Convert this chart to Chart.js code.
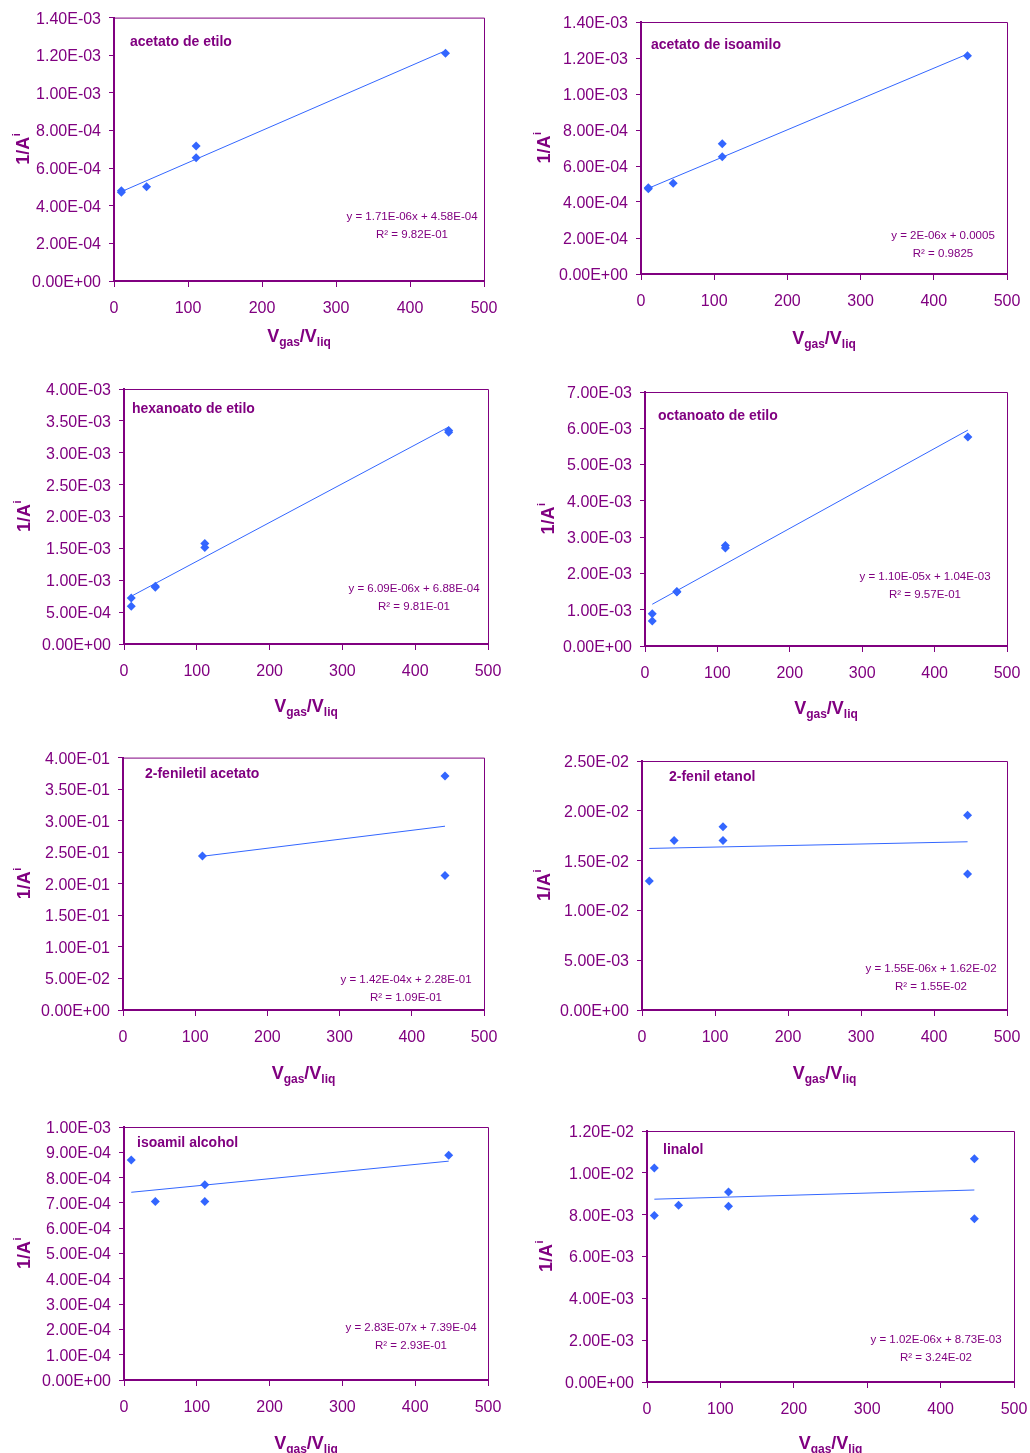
<!DOCTYPE html>
<html><head><meta charset="utf-8">
<script src="https://cdn.jsdelivr.net/npm/chart.js@4.4.1/dist/chart.umd.min.js"></script>
<style>
html,body{margin:0;padding:0;background:#fff;}
#wrap{position:relative;width:1030px;height:1453px;overflow:hidden;background:#fff;}
canvas{position:absolute;}
</style></head><body><div id="wrap"></div>
<script>
// ---------------- DATA ----------------
const panelNames = ['acetato de etilo','acetato de isoamilo','hexanoato de etilo','octanoato de etilo',
  '2-feniletil acetato','2-fenil etanol','isoamil alcohol','linalol'];

const xAcetatoEtilo = [10, 10, 44, 111, 111, 448];
const yAcetatoEtilo = [4.72e-4, 4.80e-4, 5.01e-4, 7.17e-4, 6.55e-4, 1.21e-3];

const xAcetatoIsoamilo = [10, 10, 44, 111, 111, 446];
const yAcetatoIsoamilo = [4.73e-4, 4.79e-4, 5.04e-4, 7.24e-4, 6.52e-4, 1.213e-3];

const xHexanoato = [10, 10, 43, 43, 111, 111, 446, 446];
const yHexanoato = [7.22e-4, 5.92e-4, 9.05e-4, 8.92e-4, 1.576e-3, 1.513e-3, 3.35e-3, 3.32e-3];

const xOctanoato = [10, 10, 44, 44, 111, 111, 446];
const yOctanoato = [8.9e-4, 6.9e-4, 1.49e-3, 1.50e-3, 2.77e-3, 2.70e-3, 5.76e-3];

const xFeniletilAcetato = [110, 446, 446];
const yFeniletilAcetato = [0.2439, 0.3708, 0.2131];

const xFenilEtanol = [10, 44, 111, 111, 446, 446];
const yFenilEtanol = [0.01295, 0.01702, 0.01839, 0.01702, 0.01956, 0.01365];

const xIsoamilAlcohol = [10, 43, 111, 111, 446];
const yIsoamilAlcohol = [8.70e-4, 7.06e-4, 7.72e-4, 7.06e-4, 8.88e-4];

const xLinalol = [10, 10, 43, 111, 111, 446, 446];
const yLinalol = [0.01023, 0.00796, 0.00845, 0.00908, 0.00840, 0.01067, 0.00780];

// trendline end points
const trendX = [[10,448],[10,446],[10,446],[10,446],[110,446],[10,446],[10,446],[10,446]];
const trendY = [[4.75e-4,1.224e-3],[4.76e-4,1.222e-3],[7.49e-4,3.404e-3],[1.15e-3,5.95e-3],
                [0.2436,0.2913],[0.01622,0.01689],[7.42e-4,8.65e-4],[8.74e-3,9.18e-3]];

const eqText = ['y = 1.71E-06x + 4.58E-04','y = 2E-06x + 0.0005','y = 6.09E-06x + 6.88E-04',
  'y = 1.10E-05x + 1.04E-03','y = 1.42E-04x + 2.28E-01','y = 1.55E-06x + 1.62E-02',
  'y = 2.83E-07x + 7.39E-04','y = 1.02E-06x + 8.73E-03'];
const r2Text = ['R² = 9.82E-01','R² = 0.9825','R² = 9.81E-01','R² = 9.57E-01',
  'R² = 1.09E-01','R² = 1.55E-02','R² = 2.93E-01','R² = 3.24E-02'];

const yMax  = [1.4e-3, 1.4e-3, 4.0e-3, 7.0e-3, 0.4, 0.025, 1.0e-3, 0.012];
const yStep = [2e-4, 2e-4, 5e-4, 1e-3, 0.05, 0.005, 1e-4, 0.002];
const xMax = 500, xStep = 100;

const xTitleMain = ['V','/V'], xTitleSub = ['gas','liq'];
const yTitleMain = '1/A', yTitleSup = 'i';

const xs = [xAcetatoEtilo,xAcetatoIsoamilo,xHexanoato,xOctanoato,xFeniletilAcetato,xFenilEtanol,xIsoamilAlcohol,xLinalol];
const ys = [yAcetatoEtilo,yAcetatoIsoamilo,yHexanoato,yOctanoato,yFeniletilAcetato,yFenilEtanol,yIsoamilAlcohol,yLinalol];

// ---------------- LAYOUT ----------------
const boxes = [
 {cx:0,  cy:0,   w:545,h:370, L:114,T:17,  R:484, B:281,  tX:130,tY:41,  eX:412,eY:216,  yT:22,  xD:54},
 {cx:515,cy:0,   w:545,h:370, L:641,T:22,  R:1007,B:274,  tX:651,tY:44,  eX:943,eY:235,  yT:543, xD:63},
 {cx:0,  cy:370, w:545,h:370, L:124,T:389, R:488, B:644,  tX:132,tY:408, eX:414,eY:588,  yT:23,  xD:61},
 {cx:515,cy:370, w:545,h:370, L:645,T:392, R:1007,B:646,  tX:658,tY:415, eX:925,eY:576,  yT:547, xD:61},
 {cx:0,  cy:740, w:545,h:365, L:123,T:755, R:484, B:1010, tX:145,tY:773, eX:406,eY:979,  yT:23,  xD:62},
 {cx:515,cy:740, w:545,h:365, L:642,T:761, R:1007,B:1010, tX:669,tY:776, eX:931,eY:968,  yT:543, xD:62},
 {cx:0,  cy:1105,w:545,h:348, L:124,T:1127,R:488, B:1380, tX:137,tY:1142,eX:411,eY:1327, yT:23,  xD:62},
 {cx:515,cy:1105,w:545,h:348, L:647,T:1131,R:1014,B:1382, tX:663,tY:1149,eX:936,eY:1339, yT:545, xD:60}
];

const PURPLE = '#800080', BLUE = '#3366FF';
const FONT = "'Liberation Sans', Arial, Helvetica, sans-serif";
Chart.defaults.font.family = FONT;

function sci(v){
  if (Math.abs(v) < 1e-12) return '0.00E+00';
  const s = v.toExponential(2).split('e');
  const e = parseInt(s[1], 10);
  return s[0] + 'E' + (e < 0 ? '-' : '+') + String(Math.abs(e)).padStart(2,'0');
}

const textPlugin = {
  id: 'panelText',
  beforeDatasetsDraw(chart){
    const ctx = chart.ctx, ca = chart.chartArea;
    ctx.save();
    ctx.strokeStyle = PURPLE; ctx.lineWidth = 1;
    ctx.beginPath();
    ctx.moveTo(ca.left, ca.top + 0.5); ctx.lineTo(ca.right + 0.5, ca.top + 0.5);
    ctx.lineTo(ca.right + 0.5, ca.bottom);
    ctx.stroke();
    ctx.restore();
  },
  afterDraw(chart, args, opts){
    const ctx = chart.ctx, b = opts.box, i = opts.idx, ca = chart.chartArea;
    ctx.save();
    ctx.fillStyle = PURPLE;
    // panel name
    ctx.font = 'bold 14px ' + FONT;
    ctx.textAlign = 'left'; ctx.textBaseline = 'middle';
    ctx.fillText(panelNames[i], b.tX - b.cx, b.tY - b.cy + 1);
    // equation
    ctx.font = '11.5px ' + FONT;
    ctx.textAlign = 'center';
    ctx.fillText(eqText[i], b.eX - b.cx, b.eY - b.cy + 1);
    ctx.fillText(r2Text[i], b.eX - b.cx, b.eY - b.cy + 18.5);
    // y title
    ctx.save();
    ctx.translate(b.yT - b.cx, (ca.top + ca.bottom) / 2);
    ctx.rotate(-Math.PI / 2);
    ctx.textAlign = 'left'; ctx.textBaseline = 'alphabetic';
    ctx.font = 'bold 18px ' + FONT;
    const w1 = ctx.measureText(yTitleMain).width;
    ctx.font = 'bold 11px ' + FONT;
    const w2 = ctx.measureText(yTitleSup).width;
    let x0 = -(w1 + w2) / 2;
    ctx.font = 'bold 18px ' + FONT;
    ctx.fillText(yTitleMain, x0, 6.5);
    ctx.font = 'bold 11px ' + FONT;
    ctx.fillText(yTitleSup, x0 + w1 + 0.5, 6.5 - 9);
    ctx.restore();
    // x title
    ctx.textAlign = 'left'; ctx.textBaseline = 'alphabetic';
    const parts = [[xTitleMain[0],18,0],[xTitleSub[0],12,4],[xTitleMain[1],18,0],[xTitleSub[1],12,4]];
    let tw = 0;
    parts.forEach(p => { ctx.font = 'bold ' + p[1] + 'px ' + FONT; p.push(ctx.measureText(p[0]).width); tw += p[3]; });
    let xx = (ca.left + ca.right) / 2 - tw / 2;
    const base = ca.bottom + b.xD + 7;
    parts.forEach(p => { ctx.font = 'bold ' + p[1] + 'px ' + FONT; ctx.fillText(p[0], xx, base + p[2]); xx += p[3]; });
    ctx.restore();
  }
};

const wrap = document.getElementById('wrap');
boxes.forEach((b, i) => {
  const c = document.createElement('canvas');
  c.width = b.w; c.height = b.h;
  c.style.left = b.cx + 'px'; c.style.top = b.cy + 'px';
  c.style.width = b.w + 'px'; c.style.height = b.h + 'px';
  wrap.appendChild(c);
  const pts = xs[i].map((x, k) => ({x: x, y: ys[i][k]}));
  const tpts = trendX[i].map((x, k) => ({x: x, y: trendY[i][k]}));
  new Chart(c, {
    type: 'scatter',
    data: { datasets: [
      { type: 'line', data: tpts, borderColor: BLUE, borderWidth: 1, pointRadius: 0, fill: false, tension: 0, order: 2 },
      { type: 'scatter', data: pts, pointStyle: 'rectRot', pointRadius: 4.5, backgroundColor: BLUE, borderColor: BLUE, borderWidth: 0, order: 1 }
    ]},
    options: {
      responsive: false, animation: false, devicePixelRatio: 1, events: [],
      layout: { padding: { left: 0, top: b.T - b.cy, right: b.cx + b.w - b.R, bottom: 0 } },
      plugins: { legend: { display: false }, tooltip: { enabled: false }, panelText: { box: b, idx: i } },
      scales: {
        x: {
          type: 'linear', min: 0, max: xMax,
          ticks: { stepSize: xStep, color: PURPLE, font: { size: 16 }, padding: 12, maxRotation: 0, autoSkip: false },
          grid: { drawOnChartArea: false, color: PURPLE, tickLength: 6, tickWidth: 1 },
          border: { color: PURPLE, width: 2 },
          afterFit(s) { s.height = b.cy + b.h - b.B; }
        },
        y: {
          type: 'linear', min: 0, max: yMax[i],
          ticks: { stepSize: yStep[i], color: PURPLE, font: { size: 16 }, padding: 8, labelOffset: 1.5, autoSkip: false, callback: v => sci(v) },
          grid: { drawOnChartArea: false, color: PURPLE, tickLength: 5, tickWidth: 1 },
          border: { color: PURPLE, width: 2 },
          afterFit(s) { s.width = b.L - b.cx; }
        }
      }
    },
    plugins: [textPlugin]
  });
});
</script></body></html>
